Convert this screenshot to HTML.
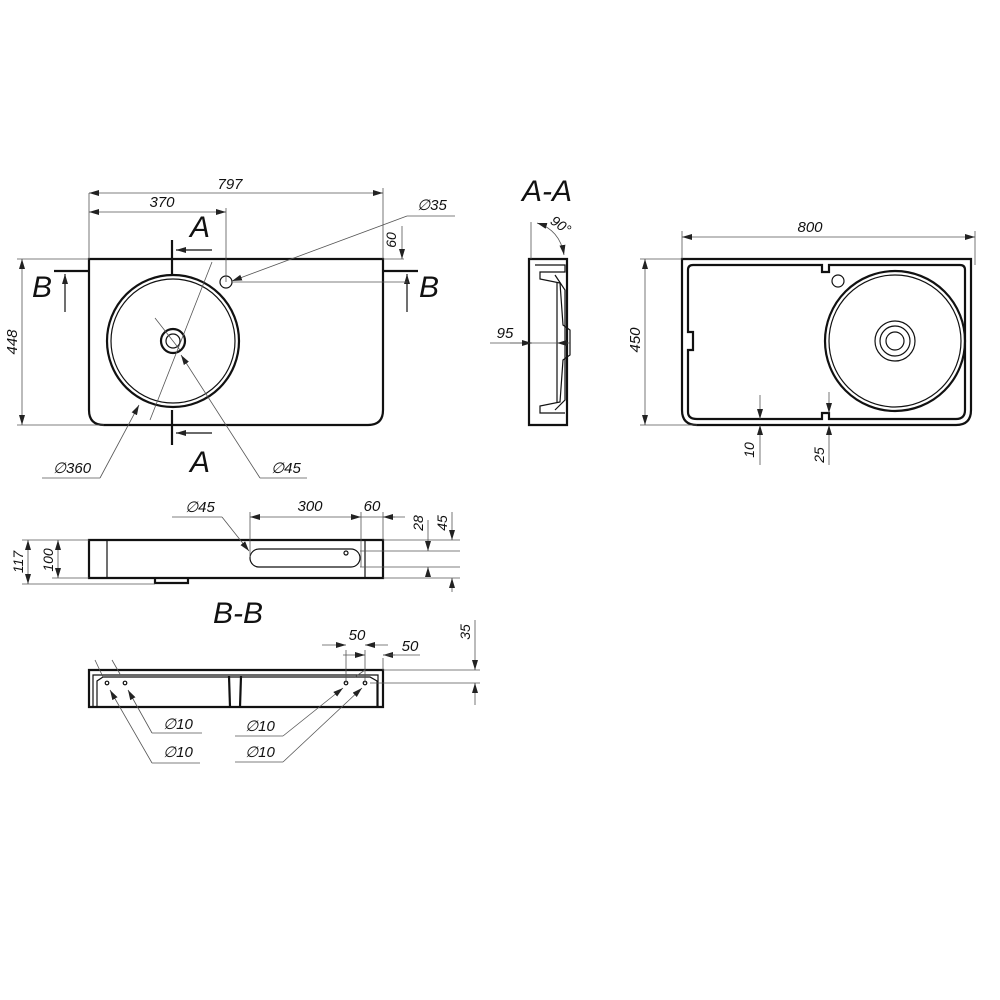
<!DOCTYPE html>
<html><head><meta charset="utf-8"><style>
html,body{margin:0;padding:0;background:#fff;}
svg{display:block}
text{font-family:"Liberation Sans",sans-serif;font-style:italic;fill:#111}
.t{stroke:#555;stroke-width:0.8;fill:none}
.k{stroke:#111;stroke-width:2.2;fill:none}
.m{stroke:#111;stroke-width:1.2;fill:none}
</style></head><body>
<svg width="1000" height="1000" viewBox="0 0 1000 1000">
<defs>
<marker id="a" viewBox="0 0 10 6" refX="10" refY="3" markerWidth="10" markerHeight="6" orient="auto-start-reverse" markerUnits="userSpaceOnUse"><path d="M0,0L10,3L0,6z" fill="#222"/></marker>
</defs>
<!-- VIEW 1 -->
<path class="k" d="M89,259H383V410Q383,425 368,425H104Q89,425 89,410Z"/>
<circle class="k" cx="173" cy="341" r="66"/>
<circle class="m" cx="173" cy="341" r="62"/>
<circle class="k" cx="173" cy="341" r="12"/>
<circle class="m" cx="173" cy="341" r="7"/>
<circle class="m" cx="226" cy="282" r="6"/>
<line class="t" x1="89" y1="193" x2="89" y2="259"/><line class="t" x1="383" y1="188" x2="383" y2="259"/>
<line class="t" x1="89" y1="193" x2="383" y2="193" marker-start="url(#a)" marker-end="url(#a)"/>
<text x="230" y="189" font-size="15" text-anchor="middle">797</text>
<line class="t" x1="226" y1="208" x2="226" y2="282"/>
<line class="t" x1="89" y1="212" x2="226" y2="212" marker-start="url(#a)" marker-end="url(#a)"/>
<text x="162" y="207" font-size="15" text-anchor="middle">370</text>
<line class="k" x1="172" y1="240" x2="172" y2="275"/><line class="k" x1="172" y1="410" x2="172" y2="445"/>
<line class="m" x1="212" y1="250" x2="176" y2="250" marker-end="url(#a)"/>
<line class="m" x1="212" y1="433" x2="176" y2="433" marker-end="url(#a)"/>
<text x="200" y="237" font-size="30" text-anchor="middle">A</text>
<text x="200" y="472" font-size="30" text-anchor="middle">A</text>
<line class="k" x1="54" y1="271" x2="89" y2="271"/><line class="k" x1="383" y1="271" x2="418" y2="271"/>
<line class="m" x1="65" y1="312" x2="65" y2="274" marker-end="url(#a)"/>
<line class="m" x1="407" y1="312" x2="407" y2="274" marker-end="url(#a)"/>
<text x="42" y="297" font-size="30" text-anchor="middle">B</text>
<text x="429" y="297" font-size="30" text-anchor="middle">B</text>
<line class="t" x1="17" y1="259" x2="89" y2="259"/><line class="t" x1="17" y1="425" x2="104" y2="425"/>
<line class="t" x1="22" y1="259" x2="22" y2="425" marker-start="url(#a)" marker-end="url(#a)"/>
<text transform="translate(17,342) rotate(-90)" font-size="15" text-anchor="middle">448</text>
<line class="t" x1="383" y1="259" x2="404" y2="259"/>
<line class="t" x1="402" y1="226" x2="402" y2="259" marker-end="url(#a)"/>
<text transform="translate(396,240) rotate(-90)" font-size="14" text-anchor="middle">60</text>
<line class="t" x1="232" y1="282" x2="408" y2="282"/>
<line class="t" x1="407" y1="216" x2="232" y2="281" marker-end="url(#a)"/><line class="t" x1="407" y1="216" x2="455" y2="216"/>
<text x="432" y="210" font-size="15" text-anchor="middle">∅35</text>
<line class="t" x1="212" y1="262" x2="150" y2="420"/>
<line class="t" x1="155" y1="318" x2="180" y2="350"/>
<line class="t" x1="100" y1="478" x2="139" y2="405" marker-end="url(#a)"/><line class="t" x1="42" y1="478" x2="100" y2="478"/>
<text x="72" y="473" font-size="15" text-anchor="middle">∅360</text>
<line class="t" x1="260" y1="478" x2="181" y2="355" marker-end="url(#a)"/><line class="t" x1="260" y1="478" x2="307" y2="478"/>
<text x="286" y="473" font-size="15" text-anchor="middle">∅45</text>
<!-- A-A -->
<text x="547" y="201" font-size="30" text-anchor="middle">A-A</text>
<path class="k" d="M529,259H567V425H529Z"/>
<path class="m" d="M535,265H565V272H540V279L560,283L563,325L570,330V355L563,360L560,402L540,406V413H565"/>
<path class="m" d="M555,275L565,290V400L555,410"/>
<path class="m" d="M557,283V402"/>
<path class="t" d="M531,222V259"/>
<path class="t" d="M537,223Q560,230 564,255" marker-start="url(#a)" marker-end="url(#a)"/>
<text transform="translate(558,229) rotate(35)" font-size="14" text-anchor="middle">90°</text>
<line class="t" x1="490" y1="343" x2="566" y2="343"/>
<line class="t" x1="510" y1="343" x2="532" y2="343" marker-end="url(#a)"/>
<line class="t" x1="570" y1="343" x2="557" y2="343" marker-end="url(#a)"/>
<text x="505" y="338" font-size="15" text-anchor="middle">95</text>
<!-- RIGHT VIEW -->
<path class="k" d="M682,259H971V410Q971,425 956,425H697Q682,425 682,410Z"/>
<path class="k" d="M693,265H822V272H829V265H960Q965,265 965,270V410Q965,419 956,419H829V413H822V419H697Q688,419 688,412V350H693V332H688V270Q688,265 693,265Z"/>
<circle class="k" cx="895" cy="341" r="70"/>
<circle class="m" cx="895" cy="341" r="66"/>
<circle class="m" cx="895" cy="341" r="20"/>
<circle class="m" cx="895" cy="341" r="15"/>
<circle class="m" cx="895" cy="341" r="9"/>
<circle class="m" cx="838" cy="281" r="6"/>
<line class="t" x1="682" y1="231" x2="682" y2="259"/><line class="t" x1="975" y1="231" x2="975" y2="265"/>
<line class="t" x1="682" y1="237" x2="975" y2="237" marker-start="url(#a)" marker-end="url(#a)"/>
<text x="810" y="232" font-size="15" text-anchor="middle">800</text>
<line class="t" x1="640" y1="259" x2="682" y2="259"/><line class="t" x1="640" y1="425" x2="697" y2="425"/>
<line class="t" x1="645" y1="259" x2="645" y2="425" marker-start="url(#a)" marker-end="url(#a)"/>
<text transform="translate(640,340) rotate(-90)" font-size="15" text-anchor="middle">450</text>
<line class="t" x1="760" y1="395" x2="760" y2="419" marker-end="url(#a)"/>
<line class="t" x1="760" y1="465" x2="760" y2="425" marker-end="url(#a)"/>
<text transform="translate(754,450) rotate(-90)" font-size="14" text-anchor="middle">10</text>
<line class="t" x1="829" y1="392" x2="829" y2="413" marker-end="url(#a)"/>
<line class="t" x1="829" y1="465" x2="829" y2="425" marker-end="url(#a)"/>
<text transform="translate(824,455) rotate(-90)" font-size="14" text-anchor="middle">25</text>
<!-- B-B top -->
<path class="k" d="M89,540H383V578H89Z"/>
<line class="m" x1="107" y1="540" x2="107" y2="578"/><line class="m" x1="365" y1="540" x2="365" y2="578"/>
<rect class="m" x="250" y="549" width="110" height="18" rx="9"/>
<circle class="m" cx="346" cy="553" r="2"/>
<path class="k" d="M155,578V583H188V578"/>
<line class="t" x1="22" y1="584" x2="155" y2="584"/>
<line class="t" x1="22" y1="540" x2="89" y2="540"/><line class="t" x1="52" y1="578" x2="89" y2="578"/>
<line class="t" x1="28" y1="540" x2="28" y2="584" marker-start="url(#a)" marker-end="url(#a)"/>
<text transform="translate(23,562) rotate(-90)" font-size="14" text-anchor="middle">117</text>
<line class="t" x1="58" y1="540" x2="58" y2="578" marker-start="url(#a)" marker-end="url(#a)"/>
<text transform="translate(53,560) rotate(-90)" font-size="14" text-anchor="middle">100</text>
<line class="t" x1="250" y1="512" x2="250" y2="557"/><line class="t" x1="361" y1="512" x2="361" y2="567"/><line class="t" x1="383" y1="512" x2="383" y2="540"/>
<line class="t" x1="250" y1="517" x2="361" y2="517" marker-start="url(#a)" marker-end="url(#a)"/>
<text x="310" y="511" font-size="15" text-anchor="middle">300</text>
<line class="t" x1="361" y1="517" x2="395" y2="517"/>
<line class="t" x1="405" y1="517" x2="383" y2="517" marker-end="url(#a)"/>
<text x="372" y="511" font-size="15" text-anchor="middle">60</text>
<line class="t" x1="383" y1="540" x2="460" y2="540"/><line class="t" x1="360" y1="551" x2="460" y2="551"/><line class="t" x1="360" y1="567" x2="460" y2="567"/><line class="t" x1="383" y1="578" x2="460" y2="578"/>
<line class="t" x1="428" y1="520" x2="428" y2="551" marker-end="url(#a)"/><line class="t" x1="428" y1="575" x2="428" y2="567" marker-end="url(#a)"/>
<text transform="translate(423,523) rotate(-90)" font-size="14" text-anchor="middle">28</text>
<line class="t" x1="452" y1="512" x2="452" y2="540" marker-end="url(#a)"/><line class="t" x1="452" y1="592" x2="452" y2="578" marker-end="url(#a)"/>
<text transform="translate(447,523) rotate(-90)" font-size="14" text-anchor="middle">45</text>
<line class="t" x1="172" y1="517" x2="222" y2="517"/><line class="t" x1="222" y1="517" x2="249" y2="551" marker-end="url(#a)"/>
<text x="200" y="512" font-size="15" text-anchor="middle">∅45</text>
<text x="238" y="623" font-size="30" text-anchor="middle">B-B</text>
<!-- bottom view -->
<path class="k" d="M89,670H383V707H89Z"/>
<path class="m" d="M93,707V675H378V707"/>
<path class="m" d="M97,707V681L103,677H370L377,681V707"/>
<line class="k" x1="229" y1="676" x2="230" y2="707"/><line class="k" x1="241" y1="676" x2="240" y2="707"/>
<circle class="m" cx="107" cy="683" r="1.8"/><circle class="m" cx="125" cy="683" r="1.8"/>
<circle class="m" cx="346" cy="683" r="1.8"/><circle class="m" cx="365" cy="683" r="1.8"/>
<line class="t" x1="95" y1="660" x2="103" y2="677"/><line class="t" x1="112" y1="660" x2="120" y2="674"/>
<line class="t" x1="152" y1="763" x2="110" y2="690" marker-end="url(#a)"/><line class="t" x1="152" y1="763" x2="200" y2="763"/>
<line class="t" x1="152" y1="733" x2="128" y2="690" marker-end="url(#a)"/><line class="t" x1="152" y1="733" x2="202" y2="733"/>
<text x="178" y="729" font-size="15" text-anchor="middle">∅10</text>
<text x="178" y="757" font-size="15" text-anchor="middle">∅10</text>
<line class="t" x1="235" y1="736" x2="283" y2="736"/><line class="t" x1="283" y1="736" x2="343" y2="688" marker-end="url(#a)"/>
<line class="t" x1="235" y1="762" x2="283" y2="762"/><line class="t" x1="283" y1="762" x2="362" y2="688" marker-end="url(#a)"/>
<line class="t" x1="355" y1="677" x2="365" y2="670"/>
<text x="260" y="731" font-size="15" text-anchor="middle">∅10</text>
<text x="260" y="757" font-size="15" text-anchor="middle">∅10</text>
<line class="t" x1="346" y1="650" x2="346" y2="683"/><line class="t" x1="365" y1="650" x2="365" y2="683"/><line class="t" x1="383" y1="658" x2="383" y2="670"/>
<line class="t" x1="322" y1="645" x2="346" y2="645" marker-end="url(#a)"/><line class="t" x1="388" y1="645" x2="365" y2="645" marker-end="url(#a)"/>
<text x="357" y="640" font-size="15" text-anchor="middle">50</text>
<line class="t" x1="343" y1="655" x2="365" y2="655" marker-end="url(#a)"/><line class="t" x1="395" y1="655" x2="383" y2="655" marker-end="url(#a)"/><line class="t" x1="383" y1="655" x2="420" y2="655"/>
<text x="410" y="651" font-size="15" text-anchor="middle">50</text>
<line class="t" x1="383" y1="670" x2="480" y2="670"/><line class="t" x1="370" y1="683" x2="480" y2="683"/>
<line class="t" x1="475" y1="620" x2="475" y2="670" marker-end="url(#a)"/><line class="t" x1="475" y1="705" x2="475" y2="683" marker-end="url(#a)"/>
<text transform="translate(470,632) rotate(-90)" font-size="14" text-anchor="middle">35</text>
</svg>
</body></html>
